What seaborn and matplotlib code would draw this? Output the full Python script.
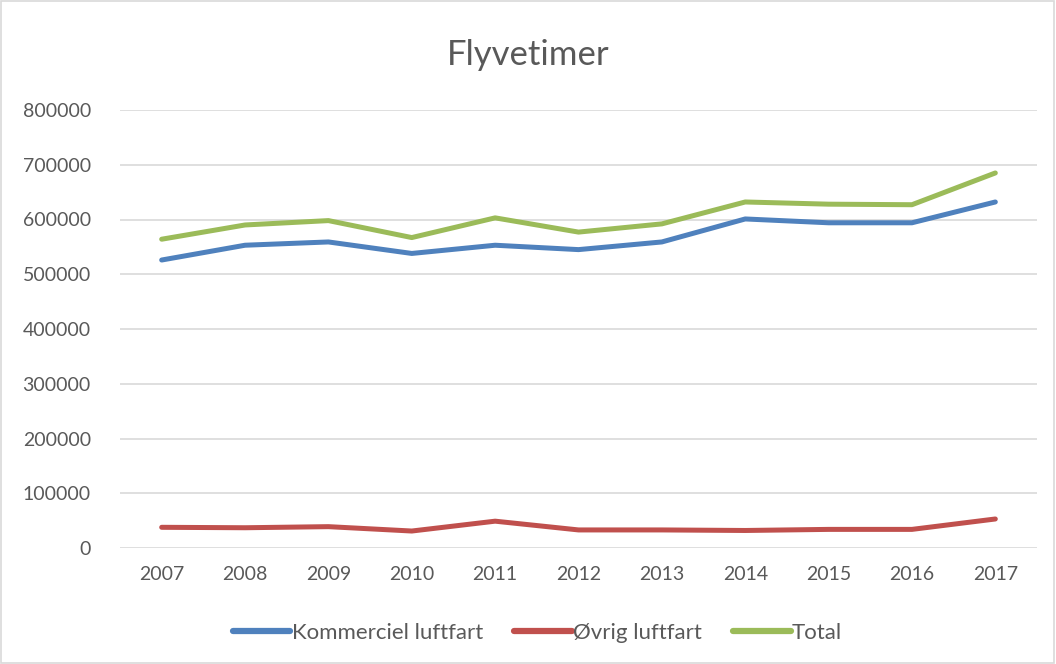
import pandas as pd
import numpy as np
import matplotlib.pyplot as plt
import seaborn as sns
from matplotlib.patches import Rectangle

sns.set_theme(style="white")
plt.rcParams['font.family'] = ['Lato', 'DejaVu Sans']

# Data
years = [2007, 2008, 2009, 2010, 2011, 2012, 2013, 2014, 2015, 2016, 2017]
kommerciel = [526000, 553000, 559000, 538000, 553000, 545000, 559000, 601000, 594000, 594000, 632000]
oevrig = [37800, 37000, 39000, 31000, 49000, 33000, 33000, 32000, 34000, 34000, 53000]
total = [564000, 590000, 598000, 567000, 603000, 577000, 592000, 632000, 628000, 627000, 685000]

series_names = ['Kommerciel luftfart', 'Øvrig luftfart', 'Total']
colors = ['#4F81BD', '#C0504D', '#9BBB59']

df = pd.DataFrame({'Year': years,
                   'Kommerciel luftfart': kommerciel,
                   'Øvrig luftfart': oevrig,
                   'Total': total})
long = df.melt(id_vars='Year', var_name='Serie', value_name='Timer')

fig = plt.figure(figsize=(10.56, 6.64), dpi=100)
ax = fig.add_axes([120 / 1056, 1 - 548 / 664, 917 / 1056, 438 / 664])

sns.lineplot(data=long, x='Year', y='Timer', hue='Serie', hue_order=series_names,
             palette=colors, linewidth=3.6, ax=ax, legend=True)
for line in ax.lines:
    line.set_solid_capstyle('round')
    line.set_solid_joinstyle('round')

ax.set_xlim(2006.5, 2017.5)
ax.set_ylim(0, 800000)
ax.set_xticks(years)
ax.set_yticks(np.arange(0, 800001, 100000))
ax.set_yticklabels([str(v) for v in range(0, 800001, 100000)])
ax.tick_params(axis='both', length=0, labelsize=14, labelcolor='#595959')
ax.tick_params(axis='x', pad=13)
ax.tick_params(axis='y', pad=21)
ax.set_xlabel('')
ax.set_ylabel('')
ax.grid(axis='y', color='#D9D9D9', linewidth=1.2)
ax.set_axisbelow(True)
for s in ax.spines.values():
    s.set_visible(False)

leg = ax.legend(loc='center', bbox_to_anchor=(0.455, -0.193), ncol=3, frameon=False,
                fontsize=16, handlelength=2.6, handletextpad=0.05, columnspacing=1.4,
                labelcolor='#595959')
for h in leg.get_lines():
    h.set_linewidth(4.5)
    h.set_solid_capstyle('round')

fig.text(0.5, 1 - 55 / 664, 'Flyvetimer', ha='center', va='center',
         fontsize=25, color='#595959')

fig.patches.append(Rectangle((0.001, 0.001), 0.997, 0.997, transform=fig.transFigure,
                             fill=False, edgecolor='#D9D9D9', linewidth=1.2))

fig.savefig('out.png', dpi=100)
